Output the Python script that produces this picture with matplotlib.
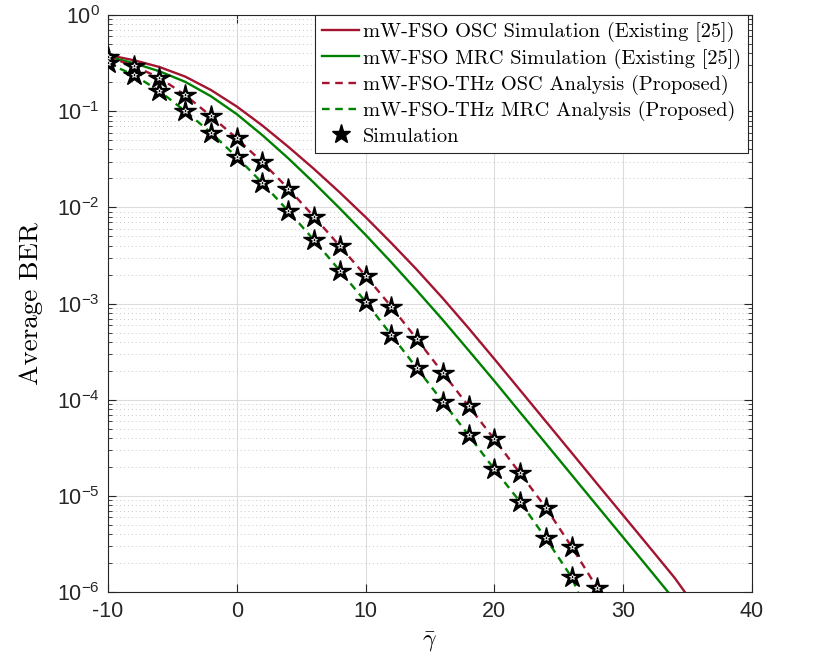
import numpy as np
import matplotlib.pyplot as plt
from matplotlib.ticker import LogLocator, LogFormatterMathtext, NullFormatter

plt.rcParams['mathtext.fontset'] = 'custom'
plt.rcParams['mathtext.rm'] = 'Liberation Sans'
plt.rcParams['mathtext.it'] = 'Liberation Sans:italic'
plt.rcParams['axes.unicode_minus'] = False

# existing scheme, simulated curves
snr_osc_sim = [-10, -8, -6, -4, -2, 0, 2, 4, 6, 8, 10, 12, 14, 16, 18, 20,
               22, 24, 26, 28, 30, 32, 34, 34.8]
ber_osc_sim = [0.384, 0.339, 0.288, 0.229, 0.166, 0.112, 0.0708, 0.0427, 0.0251,
               0.0143, 7.94e-3, 4.27e-3, 2.24e-3, 1.135e-3, 5.56e-4, 2.66e-4,
               1.26e-4, 5.96e-5, 2.82e-5, 1.33e-5, 6.31e-6, 2.99e-6, 1.41e-6, 1.0e-6]

snr_mrc_sim = [-10, -8, -6, -4, -2, 0, 2, 4, 6, 8, 10, 12, 14, 16, 18, 20,
               22, 24, 26, 28, 30, 32, 33.5]
ber_mrc_sim = [0.369, 0.316, 0.260, 0.202, 0.143, 0.0933, 0.0562, 0.0324, 0.0180,
               9.77e-3, 5.19e-3, 2.69e-3, 1.36e-3, 6.76e-4, 3.27e-4, 1.57e-4,
               7.41e-5, 3.51e-5, 1.66e-5, 7.85e-6, 3.72e-6, 1.76e-6, 1.0e-6]

# proposed scheme, analysis (stars are the matching simulation points)
snr_osc = [-10, -8, -6, -4, -2, 0, 2, 4, 6, 8, 10, 12, 14, 16, 18, 20, 22, 24, 26, 28]
ber_osc = [0.369, 0.295, 0.223, 0.147, 0.089, 0.0522, 0.0294, 0.0157, 8.01e-3,
           3.97e-3, 1.95e-3, 9.3e-4, 4.25e-4, 1.91e-4, 8.6e-5, 3.9e-5, 1.72e-5,
           7.57e-6, 2.97e-6, 1.1e-6]

snr_mrc = [-10, -8, -6, -4, -2, 0, 2, 4, 6, 8, 10, 12, 14, 16, 18, 20, 22, 24, 26]
ber_mrc = [0.315, 0.238, 0.162, 0.100, 0.0598, 0.0334, 0.0179, 9.17e-3, 4.58e-3,
           2.2e-3, 1.05e-3, 4.72e-4, 2.12e-4, 9.55e-5, 4.3e-5, 1.9e-5, 8.7e-6,
           3.63e-6, 1.43e-6]
snr_mrc_line = snr_mrc + [26.5]
ber_mrc_line = ber_mrc + [1.0e-6]

red = '#A2142F'
green = '#008000'

fig = plt.figure(figsize=(8.3, 6.66), dpi=100)
ax = fig.add_axes([0.130, 0.1107, 0.776, 0.8668])

ax.semilogy(snr_osc_sim, ber_osc_sim, color=red, lw=1.7,
            label='mW-FSO OSC Simulation (Existing [25])')
ax.semilogy(snr_mrc_sim, ber_mrc_sim, color=green, lw=1.7,
            label='mW-FSO MRC Simulation (Existing [25])')
ax.semilogy(snr_osc, ber_osc, color=red, lw=1.7, ls=(0, (3.2, 2.4)),
            label='mW-FSO-THz OSC Analysis (Proposed)')
ax.semilogy(snr_mrc_line, ber_mrc_line, color=green, lw=1.7, ls=(0, (3.2, 2.4)),
            label='mW-FSO-THz MRC Analysis (Proposed)')

for xs, ys in [(snr_osc, ber_osc), (snr_mrc, ber_mrc)]:
    ax.plot(xs, ys, ls='none', marker='*', ms=16, mfc='black', mec='black', zorder=4)
    ax.plot(xs, ys, ls='none', marker='*', ms=4, mfc='none', mec='white',
            mew=0.6, zorder=5)
ax.plot([], [], ls='none', marker='*', ms=14, mfc='black', mec='black',
        label='Simulation')

ax.set_xlim(-10, 40)
ax.set_ylim(1e-6, 1)
ax.set_xticks([-10, 0, 10, 20, 30, 40])
ax.yaxis.set_major_locator(LogLocator(base=10, numticks=10))
ax.yaxis.set_major_formatter(LogFormatterMathtext())
ax.yaxis.set_minor_locator(LogLocator(base=10, subs=np.arange(2, 10), numticks=20))
ax.yaxis.set_minor_formatter(NullFormatter())

ax.grid(True, which='major', color='#dcdcdc', lw=0.8, ls='-')
ax.grid(True, which='minor', axis='y', color='#c8c8c8', lw=0.7, ls=(0, (1, 3)))
ax.set_axisbelow(True)

ax.tick_params(which='both', direction='in', top=True, right=True,
               labelsize=15.5, colors='#262626', pad=6)
ax.tick_params(which='major', length=6)
ax.tick_params(which='minor', length=3)
for tl in ax.get_xticklabels() + ax.get_yticklabels():
    tl.set_family('Liberation Sans')
for s in ax.spines.values():
    s.set_color('#262626')
    s.set_linewidth(0.8)

ax.set_xlabel(r'$\bar{\gamma}$', fontsize=17, math_fontfamily='cm', labelpad=6)
ax.set_ylabel('Average BER', fontsize=19.5, family='cmr10', labelpad=10)

leg = ax.legend(loc='upper right', bbox_to_anchor=(0.9945, 1.0),
                prop={'family': 'cmr10', 'size': 14.7}, fancybox=False,
                framealpha=1, edgecolor='#262626', handlelength=1.8,
                handletextpad=0.2, borderpad=0.35, labelspacing=0.3,
                borderaxespad=0.0)
leg.get_frame().set_linewidth(0.8)

fig.savefig('out.png', dpi=100)
